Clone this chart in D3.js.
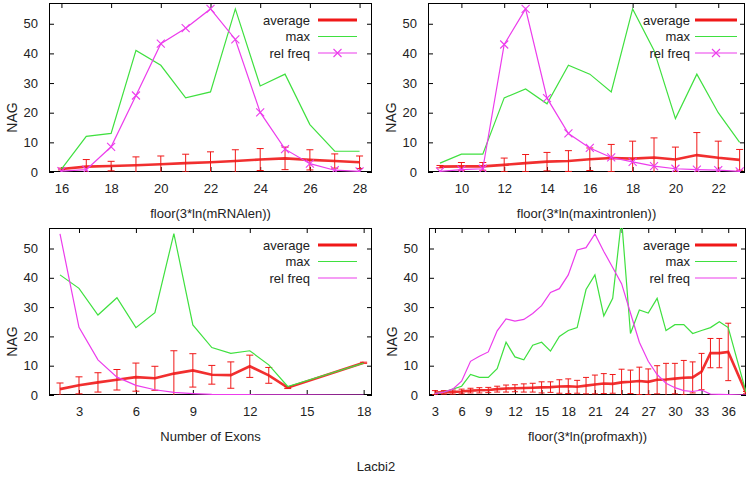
<!DOCTYPE html>
<html><head><meta charset="utf-8">
<script src="https://cdn.jsdelivr.net/npm/d3@7"></script>
<style>body{margin:0;background:#fff}svg{display:block}text{font-family:"Liberation Sans",Arial,sans-serif;fill:#222}</style>
</head><body><svg id="c" width="753" height="478"></svg>
<script>
// ---------- data ----------
const seriesNames = ["average", "max", "rel freq"];
const yTicks = [0, 10, 20, 30, 40, 50];

const p1X   = [16,17,18,19,20,21,22,23,24,25,26,27,28];
const p1Avg = [1.0,1.8,2.0,2.3,2.6,3.0,3.3,3.7,4.2,4.6,4.1,3.7,3.3];
const p1Std = [0.3,2.4,1.6,2.8,2.8,3.0,3.5,3.8,3.7,3.8,3.4,2.4,2.1];
const p1Max = [1,12,13,41,36,25,27,55,29,33,16,7,7];
const p1Rel = [0.3,0.8,8.5,25.8,43.3,48.5,55,44.7,20.1,7.7,2.8,0.6,0.2];
const p1Ticks = [16,18,20,22,24,26,28];

const p2X   = [9,10,11,12,13,14,15,16,17,18,19,20,21,22,23];
const p2Avg = [1.8,1.9,1.9,2.4,3.0,3.5,3.7,4.3,4.7,4.5,4.9,4.2,5.7,4.8,4.1];
const p2Std = [0.4,1.3,1.3,2.3,2.9,3.1,3.5,3.8,4.6,5.9,6.6,4.2,7.6,5.6,3.5];
const p2Max = [3,6,6,25,28,23,36,33,27,55,41,18,33,20,10];
const p2Rel = [0.2,0.8,1.1,43,55,24.9,13,8.1,4.9,3.4,2.0,1.1,0.8,0.6,0.2];
const p2Ticks = [10,12,14,16,18,20,22];

const p3X   = [2,3,4,5,6,7,8,9,10,11,12,13,14,18];
const p3Avg = [2.0,3.3,4.3,5.2,6.1,5.7,7.3,8.4,6.9,6.8,9.8,6.7,2.5,11];
const p3Std = [2.1,2.9,3.3,3.5,4.8,4.1,7.8,5.7,3.2,4.5,3.8,2.7,0.3,0.2];
const p3Max = [41,36.4,27.3,33.2,23,28.1,55.1,23.9,16.2,14.2,15.1,10.3,2.9,10.9];
const p3Rel = [55,23.1,12,6.1,3.3,1.8,0.9,0.5,0.2,0.1,0.1,0.05,0.02,0];
const p3Ticks = [3,6,9,12,15,18];

const p4X   = [3,4,5,6,7,8,9,10,11,12,13,14,15,16,17,18,19,20,21,22,23,24,25,26,27,28,29,30,31,32,33,34,35,36,38];
const p4Avg = [0.8,0.9,1.0,1.2,1.5,1.6,1.7,2.0,2.2,2.3,2.4,2.5,2.6,2.7,2.9,3.0,2.8,3.2,3.6,3.9,3.8,4.3,4.5,4.8,4.5,5.2,5.3,5.6,5.9,6.0,8.0,14.3,14.3,14.7,0.8];
const p4Std = [0.7,0.6,0.7,0.8,0.8,0.9,0.9,1.0,1.2,1.2,1.4,1.5,1.9,1.8,2.3,2.5,2.2,2.8,3.2,3.4,3.2,4.5,4.0,4.7,4.4,4.8,5.5,5.2,5.9,5.3,6.2,5.0,5.0,9.8,0.4];
const p4Max = [0.5,1,2,3,7,6,6,9,18,13,12,17,18,15,20,22,23,36,41,27,33,60,21,29,28,33,22,24,24,21,22,23,25,23,1];
const p4Rel = [0.5,1,2,4.7,11.5,13.2,14.7,21.9,26,25.2,25.8,27.8,30.5,35,36.3,41,49.5,50.3,55,49,43.5,38,28,18,11.5,7,4,2.5,1.5,1.2,1.7,0.3,0.2,0.1,0];
const p4Ticks = [3,6,9,12,15,18,21,24,27,30,33,36];

const xLabels = ["floor(3*ln(mRNAlen))", "floor(3*ln(maxintronlen))", "Number of Exons", "floor(3*ln(profmaxh))"];
const yLabel = "NAG";
const title = "Lacbi2";

// ---------- layout ----------
const panels = [
  {x:p1X, avg:p1Avg, std:p1Std, max:p1Max, rel:p1Rel, ticks:p1Ticks, xlabel:xLabels[0],
   L:49, R:372, T:3, B:172, xdom:[15.5,28.5], marks:true, legTxt:310, legL:318, legR:357, cap:3.5},
  {x:p2X, avg:p2Avg, std:p2Std, max:p2Max, rel:p2Rel, ticks:p2Ticks, xlabel:xLabels[1],
   L:428, R:745, T:3, B:172, xdom:[8.44,23.25], marks:true, legTxt:690, legL:695, legR:737, cap:3.5},
  {x:p3X, avg:p3Avg, std:p3Std, max:p3Max, rel:p3Rel, ticks:p3Ticks, xlabel:xLabels[2],
   L:49, R:372, T:228, B:395, xdom:[1.42,18.44], marks:false, legTxt:310, legL:318, legR:357, cap:3.5},
  {x:p4X, avg:p4Avg, std:p4Std, max:p4Max, rel:p4Rel, ticks:p4Ticks, xlabel:xLabels[3],
   L:429, R:746, T:228, B:395, xdom:[2.33,38], marks:false, legTxt:690, legL:695, legR:737, cap:3}
];

const RED = "#f01818", GREEN = "#3fe03f", MAG = "#ec3cec";
const svg = d3.select("#c");

panels.forEach((p, i) => {
  const g = svg.append("g");
  const x = d3.scaleLinear().domain(p.xdom).range([p.L, p.R]);
  const y = d3.scaleLinear().domain([0, 57]).range([p.B, p.T]);
  const clipId = "clip" + i;
  svg.append("clipPath").attr("id", clipId).append("rect")
    .attr("x", p.L).attr("y", p.T).attr("width", p.R - p.L).attr("height", p.B - p.T);

  // axes (ticks inward, mirrored)
  const tl = 5;
  const axB = g.append("g").attr("transform", `translate(0,${p.B})`)
    .call(d3.axisBottom(x).tickValues(p.ticks).tickSize(-tl).tickPadding(12).tickSizeOuter(0));
  const axT = g.append("g").attr("transform", `translate(0,${p.T})`)
    .call(d3.axisTop(x).tickValues(p.ticks).tickSize(-tl).tickFormat("").tickSizeOuter(0));
  const axL = g.append("g").attr("transform", `translate(${p.L},0)`)
    .call(d3.axisLeft(y).tickValues(yTicks).tickSize(-tl).tickPadding(11).tickSizeOuter(0));
  const axR = g.append("g").attr("transform", `translate(${p.R},0)`)
    .call(d3.axisRight(y).tickValues(yTicks).tickSize(-tl).tickFormat("").tickSizeOuter(0));
  [axB, axT, axL, axR].forEach(a => {
    a.select(".domain").remove();
    a.selectAll("line").attr("stroke", "#000");
    a.selectAll("text").style("font-size", "13px").attr("fill", "#222");
  });
  g.append("rect").attr("x", p.L + 0.5).attr("y", p.T + 0.5)
    .attr("width", p.R - p.L - 1).attr("height", p.B - p.T - 1)
    .attr("fill", "none").attr("stroke", "#000").attr("stroke-width", 1);

  // labels
  g.append("text").attr("x", (p.L + p.R) / 2).attr("y", p.B + 46).attr("text-anchor", "middle")
    .style("font-size", "13px").text(p.xlabel);
  const ly = (p.T + p.B) / 2 + 30, lx = p.L - 37;
  g.append("text").attr("transform", `translate(${lx},${ly}) rotate(-90)`).attr("text-anchor", "middle")
    .attr("dy", "0.35em").style("font-size", "14px").text(yLabel);

  const pc = g.append("g").attr("clip-path", `url(#${clipId})`);
  const pts = (vals) => p.x.map((xv, k) => [xv, vals[k]]);
  const line = d3.line().x(d => x(d[0])).y(d => y(d[1]));

  // average with error bars
  p.x.forEach((xv, k) => {
    const lo = p.avg[k] - p.std[k], hi = p.avg[k] + p.std[k];
    const X = x(xv);
    pc.append("line").attr("x1", X).attr("x2", X).attr("y1", y(lo)).attr("y2", y(hi))
      .attr("stroke", RED).attr("stroke-width", 1);
    [lo, hi].forEach(v => pc.append("line").attr("x1", X - p.cap).attr("x2", X + p.cap)
      .attr("y1", y(v)).attr("y2", y(v)).attr("stroke", RED).attr("stroke-width", 1));
  });
  pc.append("path").attr("d", line(pts(p.avg))).attr("fill", "none")
    .attr("stroke", RED).attr("stroke-width", 2.6).attr("stroke-opacity", 0.9);
  // max
  pc.append("path").attr("d", line(pts(p.max))).attr("fill", "none")
    .attr("stroke", GREEN).attr("stroke-width", 1.2);
  // rel freq
  pc.append("path").attr("d", line(pts(p.rel))).attr("fill", "none")
    .attr("stroke", MAG).attr("stroke-width", 1.2);
  const cross = (sel, X, Y) => {
    const s = 4;
    sel.append("path").attr("d", `M${X - s},${Y - s}L${X + s},${Y + s}M${X - s},${Y + s}L${X + s},${Y - s}`)
      .attr("stroke", MAG).attr("stroke-width", 1.1).attr("fill", "none");
  };
  if (p.marks) p.x.forEach((xv, k) => cross(pc, x(xv), y(p.rel[k])));

  // legend
  const colors = [RED, GREEN, MAG];
  seriesNames.forEach((nm, k) => {
    const yy = p.T + 17 + k * 16.5;
    g.append("text").attr("x", p.legTxt).attr("y", yy).attr("dy", "0.35em")
      .attr("text-anchor", "end").style("font-size", "13px").text(nm);
    g.append("line").attr("x1", p.legL).attr("x2", p.legR).attr("y1", yy).attr("y2", yy)
      .attr("stroke", colors[k]).attr("stroke-width", k === 0 ? 3 : 1.2);
    if (k === 2 && p.marks) cross(g, (p.legL + p.legR) / 2, yy);
  });
});

svg.append("text").attr("x", 376).attr("y", 466).attr("text-anchor", "middle")
  .attr("dy", "0.35em").style("font-size", "13px").text(title);
</script></body></html>
